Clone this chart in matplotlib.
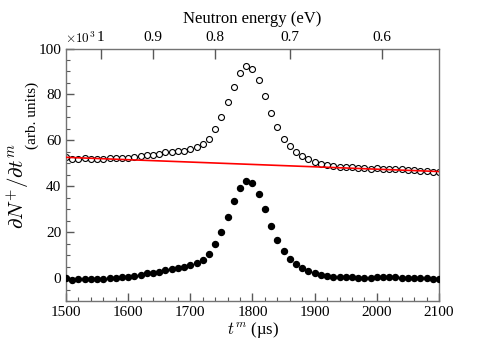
import numpy as np
import matplotlib
matplotlib.use("Agg")
import matplotlib.pyplot as plt
from matplotlib.ticker import MultipleLocator

plt.rcParams['font.family'] = ['Liberation Serif', 'DejaVu Serif']
plt.rcParams['mathtext.fontset'] = 'cm'

t = np.arange(1500, 2101, 10)

total = [52.6, 52.0, 52.0, 52.2, 52.0, 51.7, 52.0, 52.2, 52.2, 52.3,
         52.2, 52.6, 53.0, 53.6, 53.8, 54.2, 54.8, 55.1, 55.5, 55.5,
         56.2, 57.0, 58.5, 60.8, 64.9, 70.2, 76.5, 83.4, 89.4, 92.3,
         91.3, 86.4, 79.4, 72.1, 65.9, 60.8, 57.5, 55.0, 53.2, 51.7,
         50.7, 49.5, 49.1, 48.7, 48.4, 48.4, 48.4, 47.8, 47.9, 47.6,
         48.1, 47.6, 47.6, 47.4, 47.3, 47.2, 47.0, 46.8, 46.6, 46.3, 46.3]

signal = [-0.1, -0.7, -0.4, -0.3, -0.3, -0.6, -0.3, 0.0, 0.1, 0.3,
          0.4, 0.7, 1.3, 2.0, 2.2, 2.8, 3.5, 3.9, 4.4, 4.7,
          5.5, 6.5, 8.0, 10.6, 14.7, 20.0, 26.5, 33.5, 39.3, 42.4,
          41.5, 36.8, 30.1, 22.8, 16.7, 11.9, 8.4, 6.0, 4.2, 3.2,
          2.2, 1.3, 0.9, 0.4, 0.3, 0.3, 0.3, 0.1, 0.2, 0.2,
          0.4, 0.4, 0.3, 0.3, 0.2, 0.1, 0.0, -0.1, -0.2, -0.5, -0.5]

bg_t = [1500, 2100]
bg_val = [52.6, 46.4]

energy_ticks = [1, 0.9, 0.8, 0.7, 0.6]
energy_labels = ['1', '0.9', '0.8', '0.7', '0.6']
C_TE = 1556.0  # t (µs) = C / sqrt(E)

fig = plt.figure(figsize=(4.91, 3.47), dpi=100)
ax = fig.add_axes([0.1344, 0.1326, 0.7597, 0.7275])

ax.plot(t, total, 'o', mfc='none', mec='black', ms=4.3, mew=0.8, zorder=2)
ax.plot(bg_t, bg_val, color='red', lw=1.2, zorder=3)
ax.plot(t, signal, 'o', mfc='black', mec='black', ms=4.3, zorder=3)

ax.set_xlim(1500, 2100)
ax.set_ylim(-10, 100)
ax.xaxis.set_major_locator(MultipleLocator(100))
ax.xaxis.set_minor_locator(MultipleLocator(20))
ax.yaxis.set_major_locator(MultipleLocator(20))
ax.yaxis.set_minor_locator(MultipleLocator(5))
ax.tick_params(which='both', direction='in', top=False, right=False,
               labelsize=11, color='0.35')
ax.tick_params(which='major', length=6, width=1)
ax.tick_params(which='minor', length=3, width=0.8)
for s in ax.spines.values():
    s.set_color('0.45')
    s.set_linewidth(1)

ax.set_xlabel(r'$t^m$ (µs)', fontsize=12, labelpad=1)

ax2 = ax.twiny()
ax2.set_xlim(ax.get_xlim())
ax2.set_xticks([C_TE / np.sqrt(e) for e in energy_ticks])
ax2.set_xticklabels(energy_labels)
ax2.tick_params(direction='in', length=7, width=1, labelsize=11, color='0.35', pad=3)
for s in ax2.spines.values():
    s.set_visible(False)
ax2.set_xlabel('Neutron energy (eV)', fontsize=12, labelpad=6)

fig.text(0.037, 0.465, r'$\partial N^{+}/\partial t^{m}$', rotation=90,
         fontsize=15, ha='center', va='center')
fig.text(0.066, 0.668, '(arb. units)', rotation=90, fontsize=11,
         ha='center', va='center')
fig.text(0.133, 0.866, r'$\times10^{3}$', fontsize=9.5, ha='left', va='bottom')

fig.savefig('out.png', dpi=100)
